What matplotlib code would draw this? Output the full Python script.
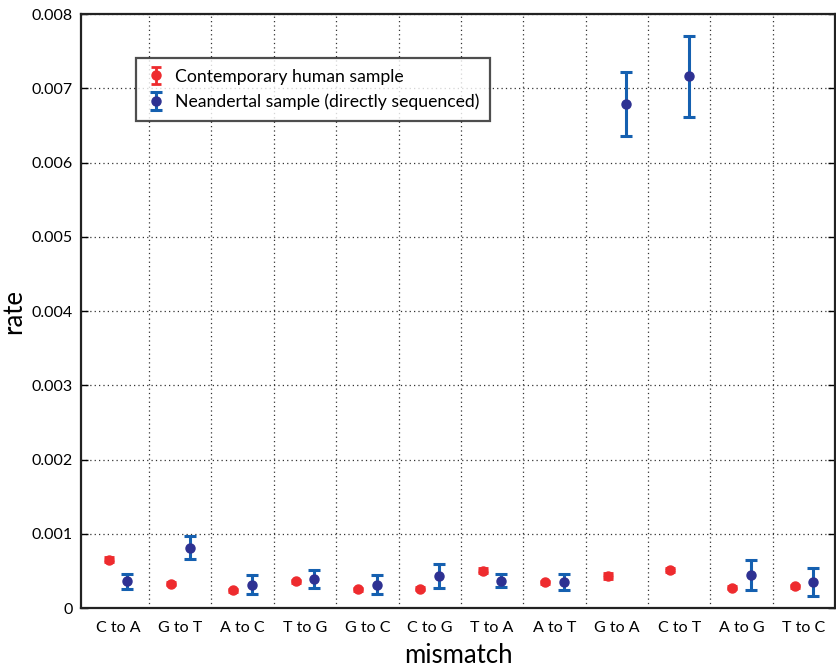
import numpy as np
import matplotlib.pyplot as plt
from matplotlib.ticker import FixedLocator, NullFormatter

# mismatch categories and rates
mismatches = ["C to A", "G to T", "A to C", "T to G", "G to C", "C to G",
              "T to A", "A to T", "G to A", "C to T", "A to G", "T to C"]

human_rate = [0.000653, 0.000328, 0.000243, 0.000365, 0.000257, 0.000260,
              0.000505, 0.000347, 0.000427, 0.000517, 0.000274, 0.000292]
human_err = [0.00003, 0.00002, 0.00002, 0.00002, 0.00002, 0.00002,
             0.00003, 0.00002, 0.00004, 0.00003, 0.00002, 0.00002]

neander_rate = [0.000360, 0.000815, 0.000315, 0.000390, 0.000315, 0.000436,
                0.000369, 0.000347, 0.006790, 0.007160, 0.000446, 0.000350]
neander_err = [0.000105, 0.000150, 0.000125, 0.000120, 0.000125, 0.000160,
               0.000090, 0.000107, 0.000430, 0.000540, 0.000200, 0.000185]

plt.rcParams['font.family'] = ['Lato', 'DejaVu Sans']

fig = plt.figure(figsize=(8.36, 6.69), dpi=100)
ax = fig.add_axes([0.097, 0.091, 0.902, 0.888])

x = np.arange(len(mismatches))
off = 0.15

ax.errorbar(x - off, human_rate, yerr=human_err, fmt='o', color='#ee2b2e',
            ecolor='#ee2b2e', markersize=6.5, elinewidth=2, capsize=3.5,
            capthick=2, label='Contemporary human sample', zorder=4)
ax.errorbar(x + off, neander_rate, yerr=neander_err, fmt='o', color='#2e3192',
            ecolor='#1560b0', markersize=6.5, elinewidth=2.2, capsize=4,
            capthick=2.2, label='Neandertal sample (directly sequenced)', zorder=4)

ax.set_xlim(-0.59, 11.5)
ax.set_ylim(0, 0.008)
ax.set_yticks(np.arange(0, 0.0081, 0.001))
ax.set_yticklabels(['0', '0.001', '0.002', '0.003', '0.004', '0.005',
                    '0.006', '0.007', '0.008'])

# grid lines sit between categories, labels at category centres
ax.xaxis.set_major_locator(FixedLocator(x[:-1] + 0.5))
ax.xaxis.set_major_formatter(NullFormatter())
ax.xaxis.set_minor_locator(FixedLocator(x))
ax.set_xticklabels(mismatches, minor=True)
ax.tick_params(axis='x', which='minor', length=0, labelsize=11.5, pad=9)
ax.tick_params(axis='x', which='major', length=0)
ax.tick_params(axis='y', direction='in', length=5, width=1, right=True,
               labelsize=11.5, pad=6)

ax.grid(True, which='major', linestyle=(0, (1, 2.5)), color='#333333',
        linewidth=0.9)
for s in ax.spines.values():
    s.set_linewidth(1.6)
    s.set_color('#222222')

ax.set_xlabel('mismatch', fontsize=18.5, labelpad=6)
ax.set_ylabel('rate', fontsize=18.5, labelpad=4)

leg = ax.legend(loc='upper left', bbox_to_anchor=(0.073, 0.926), fontsize=12.7,
                frameon=True, fancybox=False, borderpad=0.6, handlelength=1.0,
                handletextpad=0.6, labelspacing=0.5, borderaxespad=0)
leg.get_frame().set_edgecolor('#222222')
leg.get_frame().set_linewidth(1.6)

fig.savefig('out.png', dpi=100)
